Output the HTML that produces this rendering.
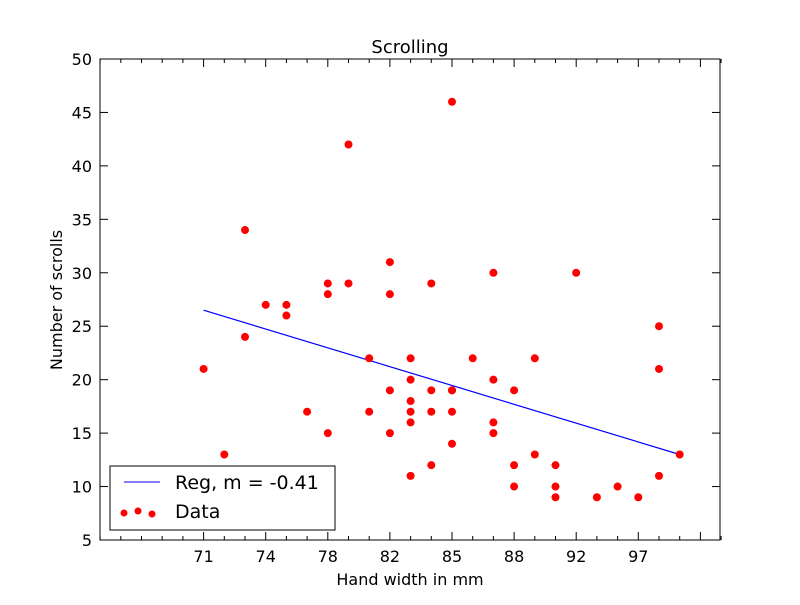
<!DOCTYPE html>
<html><head><meta charset="utf-8"><style>
body{margin:0;background:#fff;}
svg text{font-family:"DejaVu Sans","Liberation Sans",sans-serif;}
</style></head><body>
<svg id="chart" width="800" height="600" xmlns="http://www.w3.org/2000/svg">
<rect width="800" height="600" fill="#fff"/>
<g id="plot"></g>
<text x="410" y="53" font-size="18" text-anchor="middle">Scrolling</text>
<text x="410" y="585" font-size="16" text-anchor="middle">Hand width in mm</text>
<text transform="translate(62,300) rotate(-90)" font-size="16" text-anchor="middle">Number of scrolls</text>
<g>
<rect x="110" y="466" width="225" height="64" fill="#fff" stroke="#000" stroke-width="1"/>
<line x1="124" y1="482" x2="160" y2="482" stroke="#0000ff" stroke-width="1"/>
<text x="175" y="489" font-size="19">Reg, m = -0.41</text>
<circle cx="124" cy="513" r="3.5" fill="#f00"/><circle cx="138" cy="511" r="3.5" fill="#f00"/><circle cx="152" cy="514" r="3.5" fill="#f00"/>
<text x="175" y="518" font-size="19">Data</text>
</g>
</svg>
<script>
const xs=[71,72,73,73,74,75,75,76,77,77,77,78,78,79,79,80,80,80,80,81,81,81,81,81,81,82,82,82,82,83,83,83,83,83,84,85,85,85,85,86,86,86,87,87,88,88,88,89,90,91,92,93,93,93,94];
const ys=[21,13,34,24,27,27,26,17,29,28,15,42,29,22,17,31,28,19,15,22,20,18,17,16,11,29,19,17,12,46,19,19,17,14,22,30,20,16,15,19,12,10,22,13,12,10,9,30,9,10,9,25,21,11,13];
const regX=[71,94];
const regY=[26.5,13.0];
const xTickVals=[71,74,77,80,83,86,89,92,95];
const xTickLabels=["71","74","78","82","85","88","92","97",""];
const yTicks=[5,10,15,20,25,30,35,40,45,50];
const L=100,R=720,T=59,B=540;
const sx=v=>203.6+(v-71)*20.7;
const sy=v=>B-(v-5)*(B-T)/45;
const g=document.getElementById('plot');
const NS='http://www.w3.org/2000/svg';
function mk(t,a){const e=document.createElementNS(NS,t);for(const k in a)e.setAttribute(k,a[k]);g.appendChild(e);return e;}
// minor x ticks
for(let v=66;v<=96;v++){
  const major=xTickVals.includes(v);
  const len=major?8:4;
  const a=mk('line',{x1:sx(v),x2:sx(v),y1:B,y2:B-len,stroke:'#000'});
  
  
  const b=mk('line',{x1:sx(v),x2:sx(v),y1:T,y2:T+len,stroke:'#000'});
  
  
}
xTickVals.forEach((v,i)=>{
  const t=mk('text',{x:sx(v),y:B+22,'font-size':16,'text-anchor':'middle'});
  t.textContent=xTickLabels[i];
  
  
});
yTicks.forEach(v=>{
  const a=mk('line',{x1:L,x2:L+8,y1:sy(v),y2:sy(v),stroke:'#000'});
  
  
  const b=mk('line',{x1:R,x2:R-8,y1:sy(v),y2:sy(v),stroke:'#000'});
  
  
  const t=mk('text',{x:L-8,y:sy(v)+6,'font-size':16,'text-anchor':'end'});
  t.textContent=v;
  
  
});
const reg=mk('line',{x1:sx(regX[0]),y1:sy(regY[0]),x2:sx(regX[1]),y2:sy(regY[1]),stroke:'#0000ff','stroke-width':1.2});


xs.forEach((x,i)=>{
  const c=mk('circle',{cx:sx(x),cy:sy(ys[i]),r:4,fill:'#f00'});
  
  
});
const fr=mk('rect',{x:L,y:T,width:R-L,height:B-T,fill:'none',stroke:'#000','stroke-width':1});


</script>
</body></html>
